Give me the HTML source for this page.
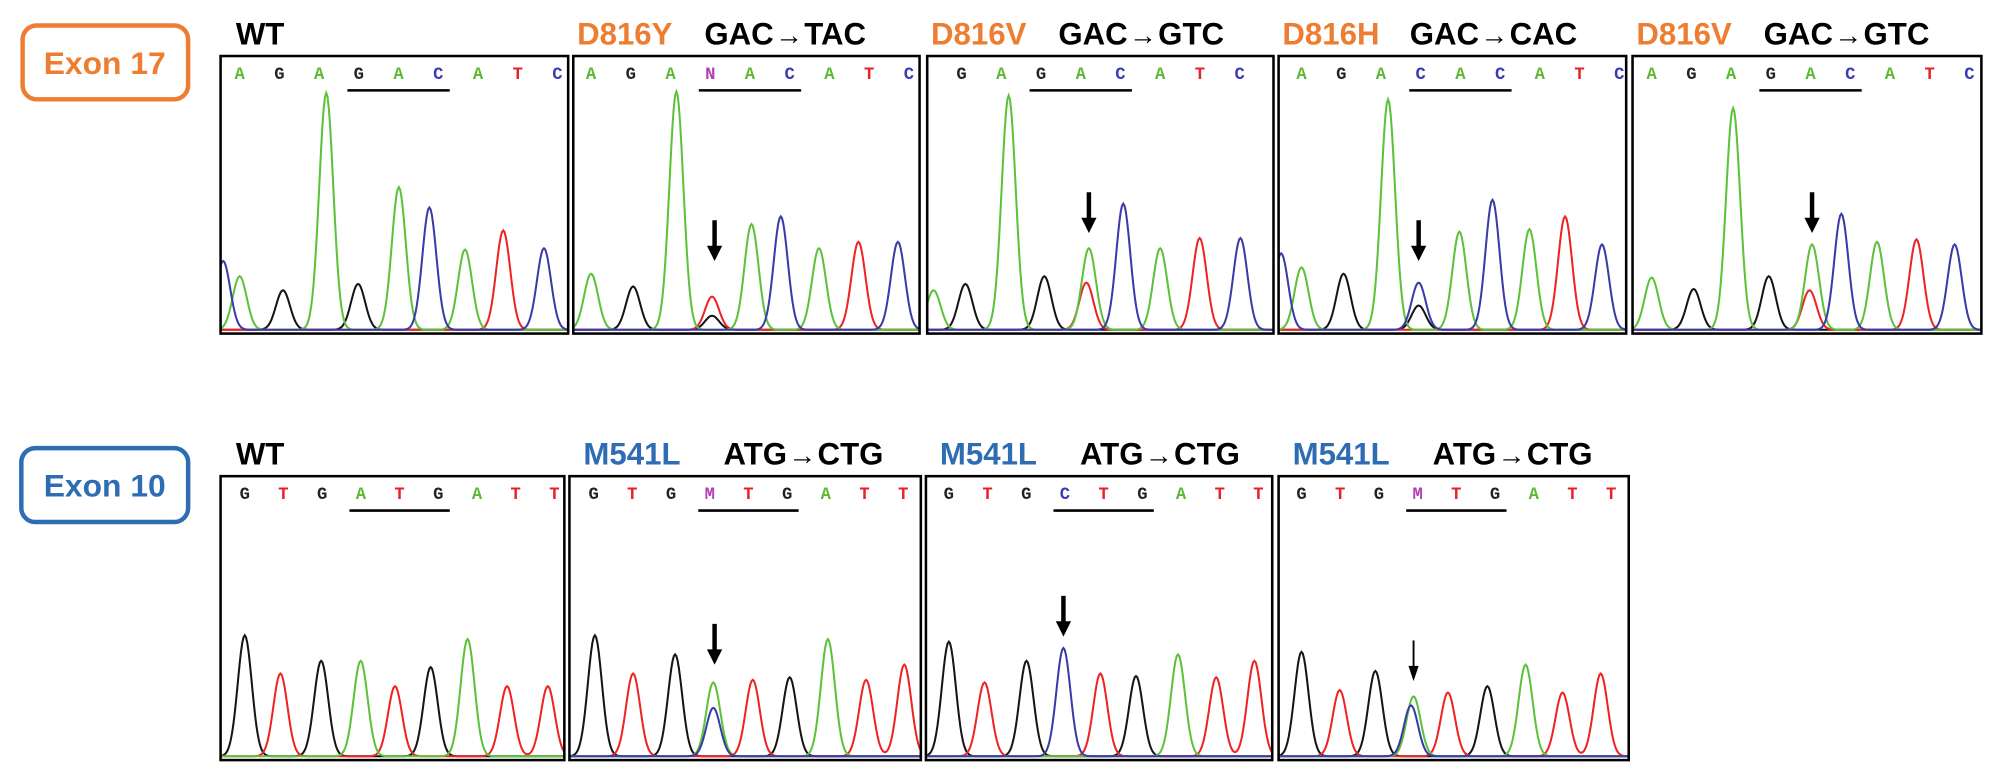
<!DOCTYPE html>
<html><head><meta charset="utf-8">
<style>
html,body{margin:0;padding:0;background:#fff;}
svg{display:block;}
text{font-family:"Liberation Sans",sans-serif;}
.hd{font-weight:bold;font-size:24.5px;}
.bs{font-family:"Liberation Mono",monospace;font-weight:bold;font-size:13.5px;}
</style></head>
<body>
<svg id="fig" width="1997" height="769" viewBox="0 0 1568 604" xmlns="http://www.w3.org/2000/svg">
  <rect x="17.5" y="20" width="130" height="58" rx="11" fill="none" stroke="#ed7d31" stroke-width="3.5"/>
  <text x="82" y="58" text-anchor="middle" font-size="25" font-weight="bold" fill="#ed7d31">Exon 17</text>
  <rect x="16.5" y="352" width="131" height="58" rx="11" fill="none" stroke="#2e6db4" stroke-width="3.5"/>
  <text x="82" y="390" text-anchor="middle" font-size="25" font-weight="bold" fill="#2e6db4">Exon 10</text>
  <g id="panels"></g>
</svg>
<script>
// Panel metadata
const panelRow = [0,0,0,0,0,1,1,1,1];
const panelX = [173,450,728,1004,1282,173,447,727,1004];
const panelW = [273,272,272,273,274,270,276,272,275];
const mutLabels = ["WT","D816Y","D816V","D816H","D816V","WT","M541L","M541L","M541L"];
const codonLabels = ["","GAC\u2192TAC","GAC\u2192GTC","GAC\u2192CAC","GAC\u2192GTC","","ATG\u2192CTG","ATG\u2192CTG","ATG\u2192CTG"];
const sequences = ["AGAGACATC","AGANACATC","GAGACATC","AGACACATC","AGAGACATC","GTGATGATT","GTGMTGATT","GTGCTGATT","GTGMTGATT"];
const seqStart = [15,14,27,18,15,19,19,18,18];
const underlineIdx = [3,3,2,3,3,3,3,3,3];
const arrowPos = [null,111,127,110,141,null,114,108,106];
// Peaks per panel: [position, base, amplitude]
const peaks0 = [[2,"C",54],[15,"A",42],[49,"G",31],[83,"A",186],[108,"G",36],[140,"A",112],[164,"C",96],[192,"A",63],[222,"T",78],[254,"C",64]];
const peaks1 = [[14,"A",44],[47,"G",34],[81,"A",187],[109,"G",11],[109,"T",26],[140,"A",83],[163,"C",89],[193,"A",64],[224,"T",69],[255,"C",69]];
const peaks2 = [[5,"A",31],[30,"G",36],[64,"A",184],[92,"G",42],[125,"T",37],[127,"A",64],[154,"C",99],[183,"A",64],[214,"T",72],[246,"C",72]];
const peaks3 = [[2,"C",60],[18,"A",49],[51,"G",44],[86,"A",181],[110,"G",19],[110,"C",37],[142,"A",77],[168,"C",102],[197,"A",79],[225,"T",89],[254,"C",67]];
const peaks4 = [[15,"A",41],[48,"G",32],[79,"A",174],[107,"G",42],[139,"T",31],[141,"A",67],[164,"C",91],[192,"A",69],[223,"T",71],[253,"C",67]];
const peaks5 = [[19,"G",95],[47,"T",65],[79,"G",75],[110,"A",75],[137,"T",55],[165,"G",70],[194,"A",92],[225,"T",55],[257,"T",55]];
const peaks6 = [[20,"G",95],[50,"T",65],[83,"G",80],[113,"A",58],[113,"C",38],[144,"T",60],[173,"G",62],[203,"A",92],[233,"T",60],[263,"T",72]];
const peaks7 = [[18,"G",90],[46,"T",58],[79,"G",75],[108,"C",85],[137,"T",65],[165,"G",63],[198,"A",80],[228,"T",62],[258,"T",75]];
const peaks8 = [[18,"G",82],[48,"T",52],[76,"G",67],[106,"A",47],[104,"C",40],[133,"T",50],[164,"G",55],[194,"A",72],[223,"T",50],[253,"T",65]];
const allPeaks = [peaks0,peaks1,peaks2,peaks3,peaks4,peaks5,peaks6,peaks7,peaks8];

const rowTop = [44,374];
const rowBottom = [262,597];
const rowHeaderY = [35,365];
const traceColor = {A:"#5cc23a",C:"#3a3aa8",G:"#151515",T:"#ee2424"};
const letterColor = {A:"#5cba32",C:"#3b3bb5",G:"#222",T:"#e82028",N:"#b040b0",M:"#b040b0"};
const NS = "http://www.w3.org/2000/svg";
const root = document.getElementById("panels");

function mk(tag, attrs, parent){
  const e = document.createElementNS(NS, tag);
  for (const k in attrs) e.setAttribute(k, attrs[k]);
  parent.appendChild(e);
  return e;
}
function xScale(p, pos){ return panelX[p] + pos; }
function yScale(r, amp){ return rowBottom[r] - 3 - amp; }

for (let p = 0; p < panelX.length; p++){
  const r = panelRow[p];
  const g = mk("g", {}, root);
  
  
  // header
  const isWT = mutLabels[p]==="WT";
  const h1 = mk("text", {x: panelX[p]+ (isWT?12:(r===0?3:11)), y: rowHeaderY[r], class:"hd",
    fill: isWT ? "#000" : (r===0 ? "#ed7d31" : "#2e6db4")}, g);
  h1.textContent = mutLabels[p];
  
  
  if (codonLabels[p]){
    const parts = codonLabels[p].split("\u2192");
    const h2 = mk("text", {x: panelX[p] + (r===0?103:121), y: rowHeaderY[r], class:"hd", fill:"#000"}, g);
    const s1 = mk("tspan", {}, h2); s1.textContent = parts[0];
    const s2 = mk("tspan", {"font-size":"22", "dx":"1"}, h2); s2.textContent = "\u2192";
    const s3 = mk("tspan", {"dx":"1"}, h2); s3.textContent = parts[1];
    
    
  }
  // clip
  const cid = "clip"+p;
  const cp = mk("clipPath", {id: cid}, g);
  mk("rect", {x: panelX[p], y: rowTop[r], width: panelW[p], height: rowBottom[r]-rowTop[r]}, cp);
  // traces
  const tg = mk("g", {"clip-path": "url(#"+cid+")"}, g);
  ["G","T","A","C"].forEach(b => {
    const list = allPeaks[p].filter(k => k[1] === b);
    if (!list.length) return;
    let d = "";
    for (let x = -4; x <= panelW[p] + 4; x += 1){
      let v = 0;
      list.forEach(k => { const dx = x - k[0]; v += k[2] * Math.exp(-dx*dx/(2*5.5*5.5)); });
      const Y = yScale(r, v);
      d += (d ? "L" : "M") + xScale(p, x).toFixed(1) + " " + Y.toFixed(1);
    }
    const path = mk("path", {d: d, fill: "none", stroke: traceColor[b], "stroke-width": 1.6}, tg);
    
    
  });
  // box
  const box = mk("rect", {x: panelX[p], y: rowTop[r], width: panelW[p], height: rowBottom[r]-rowTop[r], fill:"none", stroke:"#000", "stroke-width": 2}, g);
  
  
  // base letters
  const seq = sequences[p];
  const sp = r === 0 ? 31.2 : 30.4;
  for (let i = 0; i < seq.length; i++){
    const t = mk("text", {x: panelX[p] + seqStart[p] + i*sp, y: rowTop[r] + 18, class:"bs", "text-anchor":"middle", fill: letterColor[seq[i]]}, g);
    t.textContent = seq[i];
    
    
  }
  const u = underlineIdx[p];
  const ul = mk("line", {x1: panelX[p]+seqStart[p]+u*sp-9, x2: panelX[p]+seqStart[p]+(u+2)*sp+9,
    y1: rowTop[r]+27, y2: rowTop[r]+27, stroke:"#000", "stroke-width": 2}, g);
  
  
  // arrow
  if (arrowPos[p] !== null){
    const ax = xScale(p, arrowPos[p]);
    const thin = p === 8;
    const tipY = r === 0 ? (p===2||p===4 ? 183 : 205) : (p===7 ? 500 : (p===8 ? 535 : 522));
    const ag = mk("g", {}, g);
    
    
    mk("line", {x1: ax, x2: ax, y1: tipY-32, y2: tipY-10, stroke:"#000", "stroke-width": thin?1.5:3.5}, ag);
    const hw = thin ? 4 : 6;
    mk("polygon", {points: (ax-hw)+","+(tipY-12)+" "+(ax+hw)+","+(tipY-12)+" "+ax+","+tipY, fill:"#000"}, ag);
  }
}
</script>
</body></html>
